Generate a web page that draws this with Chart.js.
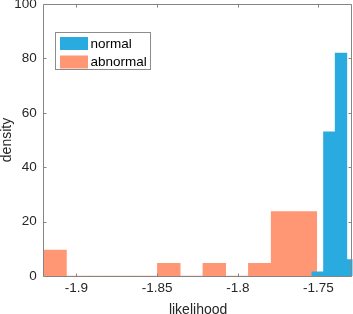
<!DOCTYPE html>
<html>
<head>
<meta charset="utf-8">
<script src="https://cdn.jsdelivr.net/npm/chart.js@4"></script>
<style>
  html, body { margin: 0; padding: 0; background: #fff; }
  #wrap { width: 353px; height: 314px; position: relative; }
</style>
</head>
<body>
<div id="wrap"><canvas id="myChart"></canvas></div>
<script>
// histogram bins (density)
const abnormalStart = -1.9203;
const abnormalWidth = 0.0141;
const abnormalDensity = [9.5, 0, 0, 0, 0, 4.7, 0, 4.7, 0, 4.7, 23.7, 23.7];

const normalStart = -1.7541;
const normalWidth = 0.00723;
const normalDensity = [1.5, 53, 82, 6];

const xMin = -1.9203;
const xMax = -1.7289;
const xTicks = [-1.9, -1.85, -1.8, -1.75];
const xTickLabels = ["-1.9", "-1.85", "-1.8", "-1.75"];
const yTicks = [0, 20, 40, 60, 80, 100];
const seriesNames = ["normal", "abnormal"];

const blue = "rgb(41,171,224)";
const orange = "rgb(255,150,116)";
const font = "'Liberation Sans', Arial, sans-serif";

// bar centres from the bin edges
function bins(start, width, values) {
  return values.map((v, i) => ({ x: start + (i + 0.5) * width, y: v }));
}

function setTicks(list) {
  return (scale) => {
    scale.ticks = list.map((v) => ({ value: v }));
  };
}

// box with inward ticks on all four sides, like matlab
const matlabBox = {
  id: "matlabBox",
  afterDatasetsDraw(chart) {
    const { ctx, chartArea: a, scales } = chart;
    const l = Math.floor(a.left) + 0.5;
    const r = Math.floor(a.right) - 0.5;
    const t = Math.floor(a.top) + 0.5;
    const b = Math.floor(a.bottom) + 0.5;
    const len = 3;
    ctx.save();
    ctx.strokeStyle = "#858585";
    ctx.lineWidth = 1;
    ctx.beginPath();
    ctx.rect(l, t, r - l, b - t);
    xTicks.forEach((v) => {
      const px = Math.round(scales.x.getPixelForValue(v)) + 0.5;
      ctx.moveTo(px, b);
      ctx.lineTo(px, b - len);
      ctx.moveTo(px, t);
      ctx.lineTo(px, t + len);
    });
    yTicks.forEach((v) => {
      const py = Math.round(scales.y.getPixelForValue(v)) + 0.5;
      ctx.moveTo(l, py);
      ctx.lineTo(l + len, py);
      ctx.moveTo(r, py);
      ctx.lineTo(r - len, py);
    });
    ctx.stroke();
    ctx.restore();
  },
  afterDraw(chart) {
    // legend box inside the plot
    const { ctx } = chart;
    ctx.save();
    ctx.fillStyle = "#fff";
    ctx.fillRect(55, 32, 96, 38);
    ctx.strokeStyle = "#8c8c8c";
    ctx.lineWidth = 1;
    ctx.strokeRect(55.5, 32.5, 95, 37);
    const colors = [blue, orange];
    ctx.font = "13.5px " + font;
    ctx.textBaseline = "middle";
    seriesNames.forEach((name, i) => {
      const y = 37 + i * 18.5;
      ctx.fillStyle = colors[i];
      ctx.fillRect(60, y, 28, 13);
      ctx.fillStyle = "#000";
      ctx.fillText(name, 90.5, y + 7);
    });
    ctx.restore();
  },
};

const ctx = document.getElementById("myChart").getContext("2d");

const myChart = new Chart(ctx, {
  type: "bar",
  data: {
    datasets: [
      {
        label: seriesNames[0],
        data: bins(normalStart, normalWidth, normalDensity),
        backgroundColor: blue,
        xAxisID: "x2",
      },
      {
        label: seriesNames[1],
        data: bins(abnormalStart, abnormalWidth, abnormalDensity),
        backgroundColor: orange,
        xAxisID: "x",
      },
    ],
  },
  options: {
    responsive: true,
    maintainAspectRatio: false,
    animation: false,
    grouped: false,
    barPercentage: 1,
    categoryPercentage: 1,
    borderWidth: 0,
    layout: { padding: { top: 4, right: 0.5, left: 0, bottom: 0 } },
    plugins: {
      legend: { display: false },
      tooltip: { enabled: false },
    },
    scales: {
      x: {
        type: "linear",
        position: "bottom",
        offset: false,
        min: xMin,
        max: xMax,
        afterBuildTicks: setTicks(xTicks),
        afterFit: (s) => { s.height = 38; },
        grid: { display: false, drawTicks: false, offset: false },
        border: { display: false },
        ticks: {
          padding: 4,
          color: "#262626",
          font: { family: font, size: 13.5 },
          maxRotation: 0,
          callback: (v, i) => xTickLabels[i],
        },
        title: {
          display: true,
          text: "likelihood",
          color: "#262626",
          font: { family: font, size: 14, lineHeight: 1 },
          padding: { top: 0, bottom: -3 },
        },
      },
      x2: {
        type: "linear",
        display: false,
        offset: false,
        grid: { offset: false },
        min: xMin,
        max: xMax,
        afterBuildTicks: setTicks(xTicks),
      },
      y: {
        min: 0,
        max: 100,
        afterBuildTicks: setTicks(yTicks),
        afterFit: (s) => { s.width = 43.67; s.paddingTop = 0; s.paddingBottom = 0; },
        grid: { display: false, drawTicks: false },
        border: { display: false },
        ticks: {
          padding: 7,
          color: "#262626",
          font: { family: font, size: 13.5 },
        },
        title: {
          display: true,
          text: "density",
          color: "#262626",
          font: { family: font, size: 14, lineHeight: 1 },
          padding: 0,
        },
      },
    },
  },
  plugins: [matlabBox],
});
</script>
</body>
</html>
